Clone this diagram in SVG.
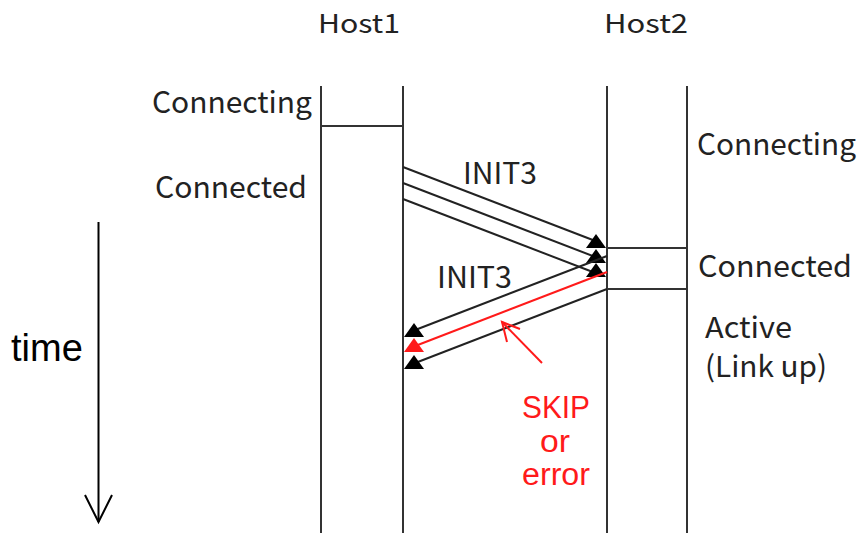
<svg xmlns="http://www.w3.org/2000/svg" xmlns:xlink="http://www.w3.org/1999/xlink" width="858" height="535" viewBox="0 0 858 535">
  <style>
    .lbl { font-family: "Noto Sans CJK JP", "Noto Sans", "DejaVu Sans", sans-serif; fill: #222; }
    .life { stroke: #333; stroke-width: 2; fill: none; }
    .msg { stroke: #222; stroke-width: 2; fill: none; }
    .err { stroke: #ff1a1a; stroke-width: 2; fill: none; }
    .red { font-family: "Liberation Sans", Arial, sans-serif; fill: #ff1a1a; font-size: 31px; }
  </style>
  <defs>
    <!-- flat-based triangle head, apex at origin -->
    <polygon id="head" points="0,0 -10,14 10,14"/>
  </defs>
  <rect width="858" height="535" fill="#fff"/>

  <!-- Host1 lifeline pair -->
  <g id="host1">
    <text class="lbl" x="318" y="33" font-size="26" textLength="82" lengthAdjust="spacingAndGlyphs">Host1</text>
    <line class="life" x1="321" y1="86" x2="321" y2="533"/>
    <line class="life" x1="403" y1="86" x2="403" y2="533"/>
    <line class="life" x1="321" y1="126" x2="403" y2="126"/>
  </g>

  <!-- Host2 lifeline pair -->
  <g id="host2">
    <text class="lbl" x="604" y="33" font-size="26" textLength="84" lengthAdjust="spacingAndGlyphs">Host2</text>
    <line class="life" x1="607" y1="86" x2="607" y2="533"/>
    <line class="life" x1="687" y1="86" x2="687" y2="533"/>
    <line class="life" x1="607" y1="248" x2="687" y2="248"/>
    <line class="life" x1="607" y1="289" x2="687" y2="289"/>
  </g>

  <!-- state labels -->
  <g id="states-host1">
    <text class="lbl" x="152" y="113" font-size="30" textLength="160" lengthAdjust="spacingAndGlyphs">Connecting</text>
    <text class="lbl" x="155" y="198" font-size="30" textLength="152" lengthAdjust="spacingAndGlyphs">Connected</text>
  </g>
  <g id="states-host2">
    <text class="lbl" x="697" y="155" font-size="30" textLength="159" lengthAdjust="spacingAndGlyphs">Connecting</text>
    <text class="lbl" x="698" y="277" font-size="30" textLength="154" lengthAdjust="spacingAndGlyphs">Connected</text>
    <text class="lbl" x="705" y="338" font-size="29" textLength="87" lengthAdjust="spacingAndGlyphs">Active</text>
    <text class="lbl" x="705" y="377" font-size="29" textLength="122" lengthAdjust="spacingAndGlyphs">(Link up)</text>
  </g>

  <!-- time axis -->
  <g id="time">
    <text x="11" y="361" font-family="Liberation Sans, Arial, sans-serif" font-size="38" fill="#000">time</text>
    <line x1="98.5" y1="222" x2="98.5" y2="522" stroke="#000" stroke-width="2"/>
    <polyline points="85,495 98.5,522 112,495" fill="none" stroke="#000" stroke-width="2"/>
  </g>

  <!-- message connectors -->
  <g id="connectors">
    <!-- INIT3 burst Host1 -> Host2 -->
    <line class="msg" x1="403" y1="167" x2="598" y2="242"/>
    <line class="msg" x1="403" y1="183" x2="598" y2="258"/>
    <line class="msg" x1="403" y1="199" x2="598" y2="274"/>
    <use xlink:href="#head" x="596" y="234" fill="#000"/>
    <use xlink:href="#head" x="596" y="249" fill="#000"/>
    <use xlink:href="#head" x="596" y="263" fill="#000"/>

    <!-- INIT3 burst Host2 -> Host1 -->
    <line class="msg" x1="607" y1="256" x2="410" y2="332"/>
    <line class="err" x1="607" y1="272" x2="410" y2="348"/>
    <line class="msg" x1="607" y1="289" x2="410" y2="365"/>
    <use xlink:href="#head" x="414" y="323" fill="#000"/>
    <use xlink:href="#head" x="414" y="338" fill="#ff1a1a"/>
    <use xlink:href="#head" x="414" y="355" fill="#000"/>

    <!-- pointer to the corrupted frame -->
    <line class="err" x1="542" y1="363" x2="502" y2="322" stroke-width="1.5"/>
    <polyline class="err" points="520,329 502,322 507,342" stroke-width="1.5"/>
  </g>

  <!-- message labels -->
  <g id="labels">
    <text class="lbl" x="463" y="184" font-size="30" textLength="74" lengthAdjust="spacingAndGlyphs">INIT3</text>
    <text class="lbl" x="437" y="288" font-size="30" textLength="75" lengthAdjust="spacingAndGlyphs">INIT3</text>
    <text class="red" x="522" y="418" textLength="68" lengthAdjust="spacingAndGlyphs">SKIP</text>
    <text class="red" x="540" y="452" textLength="30" lengthAdjust="spacingAndGlyphs">or</text>
    <text class="red" x="522" y="485" textLength="68" lengthAdjust="spacingAndGlyphs">error</text>
  </g>
</svg>
